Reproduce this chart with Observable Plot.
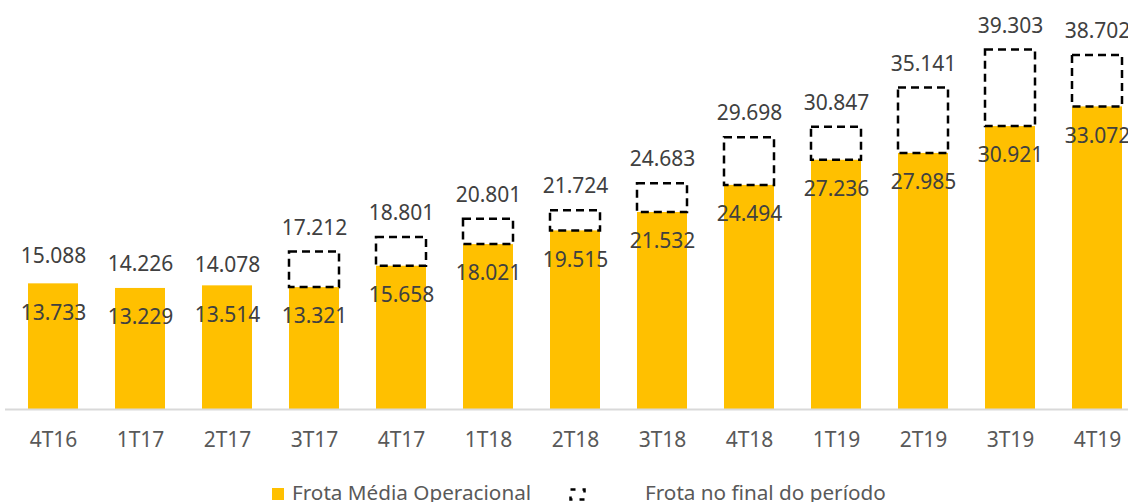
<!DOCTYPE html>
<html>
<head>
<meta charset="utf-8">
<script src="https://cdn.jsdelivr.net/npm/d3@7"></script>
<script src="https://cdn.jsdelivr.net/npm/@observablehq/plot@0.6"></script>
<style>
  html, body { margin: 0; padding: 0; background: #fff; overflow: hidden; }
  #wrap { position: relative; width: 1128px; height: 502px; font-family: "Noto Sans", sans-serif; }
  #chart svg { display: block; }
  .leg { position: absolute; font-size: 20.7px; color: #595959; white-space: nowrap; line-height: 1; }
</style>
</head>
<body>
<div id="wrap">
  <div id="chart"></div>
  <div class="leg" style="left:272px; top:488px; width:12px; height:12px; background:#FFC000;"></div>
  <div class="leg" id="t1" style="left:292px; top:482px;">Frota Média Operacional</div>
  <svg class="leg" style="left:569px; top:488px;" width="17" height="13">
    <rect x="1.5" y="1.5" width="14" height="10" fill="none" stroke="#000" stroke-width="2.5" stroke-dasharray="5,7"></rect>
  </svg>
  <div class="leg" id="t2" style="left:645px; top:482px;">Frota no final do período</div>
</div>
<script>
const quarters = ["4T16","1T17","2T17","3T17","4T17","1T18","2T18","3T18","4T18","1T19","2T19","3T19","4T19"];
const frotaMedia = [13.733, 13.229, 13.514, 13.321, 15.658, 18.021, 19.515, 21.532, 24.494, 27.236, 27.985, 30.921, 33.072];
const frotaFinal = [15.088, 14.226, 14.078, 17.212, 18.801, 20.801, 21.724, 24.683, 29.698, 30.847, 35.141, 39.303, 38.702];
const comCaixa = [false, false, false, true, true, true, true, true, true, true, true, true, true];

const data = quarters.map((q, i) => ({q, media: frotaMedia[i], final: frotaFinal[i], box: comCaixa[i]}));
const fmt = d3.format(".3f");
const boxed = data.filter(d => d.box);
const plain = data.filter(d => !d.box);

const chart = Plot.plot({
  width: 1128,
  height: 470,
  marginLeft: 5,
  marginRight: 0,
  marginTop: 6.4,
  marginBottom: 61,
  style: {fontFamily: "Noto Sans", color: "#595959", overflow: "hidden"},
  x: {type: "band", domain: quarters, range: [0, 1150], paddingInner: 0.43, paddingOuter: 0.31, label: null},
  y: {domain: [0, 44], axis: null},
  marks: [
    Plot.barY(data, {x: "q", y: "media", fill: "#FFC000"}),
    Plot.barY(boxed, {x: "q", y1: "media", y2: "final", fill: "none", stroke: "#000", strokeWidth: 2.5, strokeDasharray: "8,5"}),
    Plot.ruleY([0], {stroke: "#d9d9d9", strokeWidth: 2}),
    Plot.text(data, {x: "q", y: "media", text: d => fmt(d.media), dy: 29, fill: "#404040", fontSize: 21}),
    Plot.text(boxed, {x: "q", y: "final", text: d => fmt(d.final), dy: -24, fill: "#404040", fontSize: 21}),
    Plot.text(plain, {x: "q", y: "final", text: d => fmt(d.final), dy: -15, fill: "#404040", fontSize: 21}),
    Plot.axisX({tickSize: 0, tickPadding: 23, fontSize: 21, fill: "#595959", label: null})
  ]
});
document.getElementById("chart").appendChild(chart);
</script>
</body>
</html>
